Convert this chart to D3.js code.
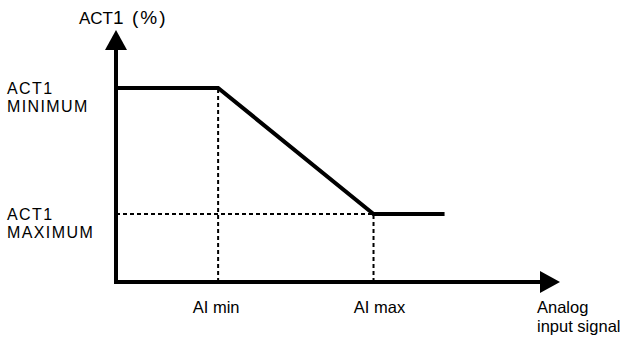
<!DOCTYPE html>
<html>
<head>
<meta charset="utf-8">
<script src="https://cdn.jsdelivr.net/npm/d3@7"></script>
<style>
  body { margin: 0; background: #fff; }
  svg text { font-family: "Liberation Sans", Arial, sans-serif; fill: #000; }
</style>
</head>
<body>
<div id="chart"></div>
<script>
// response curve: analog input (x, % of axis) -> ACT1 (y, % of axis)
var curveX = [0, 23, 58, 74];
var curveY = [77, 77, 27, 27];

// breakpoints on the input axis
var breakNames = ["AI min", "AI max"];
var breakX = [23, 58];
var breakY = [77, 27];

// level labels on the output axis
var levelNames = [["ACT1", "MINIMUM"], ["ACT1", "MAXIMUM"]];
var levelY = [77, 27];

var width = 625, height = 337;

var x = d3.scaleLinear().domain([0, 100]).range([116, 560]);
var y = d3.scaleLinear().domain([0, 100]).range([282, 30]);

var svg = d3.select("#chart")
    .append("svg")
    .attr("width", width)
    .attr("height", height);

// dashed guides
var guides = [];
breakX.forEach(function(v, i) {
    guides.push([[v, 0], [v, breakY[i]]]);
});
// horizontal guide only for the lower level (upper level is the curve itself)
guides.push([[0, breakY[1]], [breakX[1], breakY[1]]]);

svg.selectAll(".guide")
    .data(guides)
    .enter()
    .append("line")
    .attr("class", "guide")
    .attr("x1", function(d) { return x(d[0][0]); })
    .attr("y1", function(d) { return y(d[0][1]); })
    .attr("x2", function(d) { return x(d[1][0]); })
    .attr("y2", function(d) { return y(d[1][1]); })
    .attr("stroke", "#000")
    .attr("stroke-width", 2)
    .attr("stroke-dasharray", "4,3");

// the curve
var line = d3.line()
    .x(function(d) { return x(d[0]); })
    .y(function(d) { return y(d[1]); });

svg.append("path")
    .datum(d3.zip(curveX, curveY))
    .attr("d", line)
    .attr("fill", "none")
    .attr("stroke", "#000")
    .attr("stroke-width", 4)
    .attr("stroke-linejoin", "miter");

// axes with arrow heads
var x0 = x(0), y0 = y(0), yTop = y(100), xEnd = x(100);
var head = 20, half = 11;

svg.append("path")
    .attr("d", "M" + x0 + "," + (y0 + 2) + "V" + (yTop + head) +
               "M" + (x0 - 2) + "," + y0 + "H" + (xEnd - head))
    .attr("fill", "none")
    .attr("stroke", "#000")
    .attr("stroke-width", 4);

svg.append("path")
    .attr("d", "M" + x0 + "," + yTop + "L" + (x0 + half) + "," + (yTop + head) +
               "L" + (x0 - half) + "," + (yTop + head) + "Z")
    .attr("fill", "#000");

svg.append("path")
    .attr("d", "M" + xEnd + "," + y0 + "L" + (xEnd - head) + "," + (y0 - half) +
               "L" + (xEnd - head) + "," + (y0 + half) + "Z")
    .attr("fill", "#000");

// axis title
var title = svg.append("text")
    .attr("x", 79)
    .attr("y", 24)
    .style("font-size", "17px");
title.append("tspan").text("ACT");
title.append("tspan").style("font-size", "19px").text("1");
title.append("tspan").attr("x", 132).style("font-size", "19px")
    .style("letter-spacing", "2px").text("(%)");

// level labels (one text per line so the lines don't collide)
levelNames.forEach(function(lines, i) {
    lines.forEach(function(s, j) {
        svg.append("text")
            .attr("x", 7)
            .attr("y", y(levelY[i]) + 6 + j * 18)
            .style("font-size", "16px")
            .style("letter-spacing", "1.4px")
            .text(s);
    });
});

// breakpoint labels
svg.selectAll(".blabel")
    .data(breakNames)
    .enter()
    .append("text")
    .attr("class", "blabel")
    .attr("x", function(d, i) { return x(breakX[i]) + (i === 0 ? -2 : 6); })
    .attr("y", 313)
    .attr("text-anchor", "middle")
    .style("font-size", "16.5px")
    .text(function(d) { return d; });

// input axis label
svg.append("text")
    .attr("x", 537)
    .attr("y", 313)
    .style("font-size", "16.5px")
    .text("Analog");
svg.append("text")
    .attr("x", 537)
    .attr("y", 332)
    .style("font-size", "16.5px")
    .text("input signal");
</script>
</body>
</html>
